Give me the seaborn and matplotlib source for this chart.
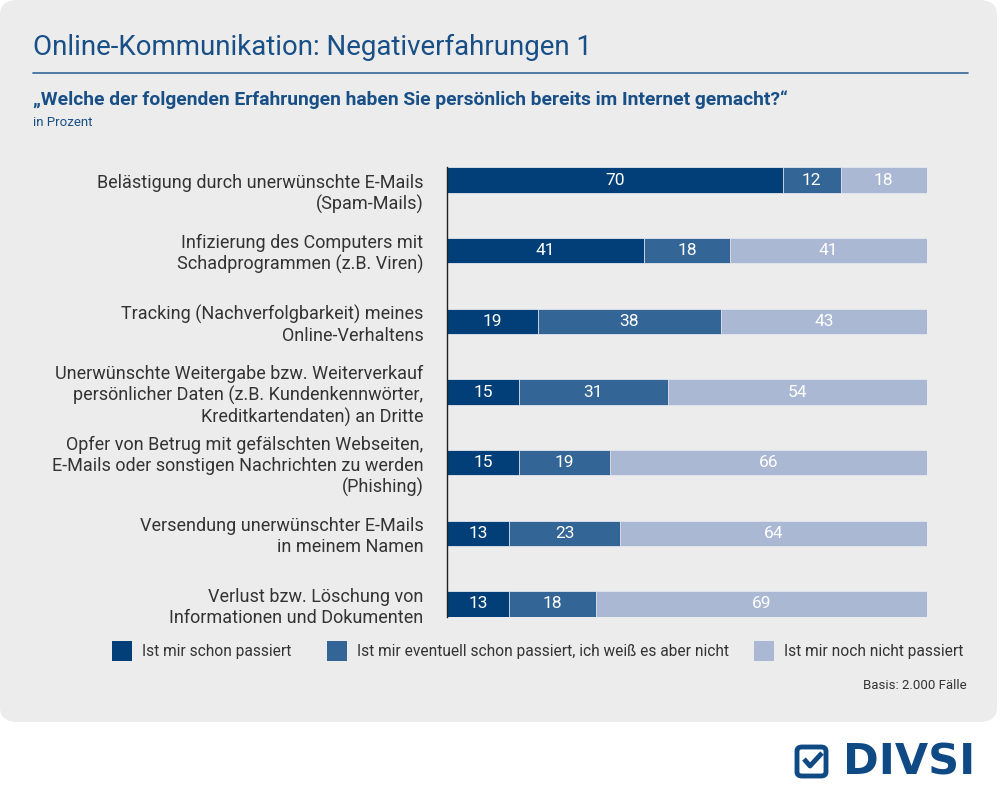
import pandas as pd
import numpy as np
import matplotlib
matplotlib.use("Agg")
import matplotlib.pyplot as plt
import matplotlib.transforms as mtransforms
import seaborn as sns
from matplotlib.patches import FancyBboxPatch

# data
items = [
    "Belästigung durch unerwünschte E-Mails\n(Spam-Mails)",
    "Infizierung des Computers mit\nSchadprogrammen (z.B. Viren)",
    "Tracking (Nachverfolgbarkeit) meines\nOnline-Verhaltens",
    "Unerwünschte Weitergabe bzw. Weiterverkauf\npersönlicher Daten (z.B. Kundenkennwörter,\nKreditkartendaten) an Dritte",
    "Opfer von Betrug mit gefälschten Webseiten,\nE-Mails oder sonstigen Nachrichten zu werden\n(Phishing)",
    "Versendung unerwünschter E-Mails\nin meinem Namen",
    "Verlust bzw. Löschung von\nInformationen und Dokumenten",
]
schon = [70, 41, 19, 15, 15, 13, 13]
eventuell = [12, 18, 38, 31, 19, 23, 18]
nicht = [18, 41, 43, 54, 66, 64, 69]
series_names = ["Ist mir schon passiert",
                "Ist mir eventuell schon passiert, ich weiß es aber nicht",
                "Ist mir noch nicht passiert"]
colors = ["#023f78", "#346597", "#aab8d4"]

df = pd.DataFrame({"item": items, "schon": schon, "eventuell": eventuell, "nicht": nicht})
df["c1"] = df["schon"]
df["c2"] = df["schon"] + df["eventuell"]
df["c3"] = df["c2"] + df["nicht"]

sns.set_style("white")
plt.rcParams["font.family"] = ["Roboto", "DejaVu Sans"]

fig = plt.figure(figsize=(10, 8.05), dpi=100)
fig.patch.set_facecolor("white")

# grey rounded panel
panel = FancyBboxPatch((0.0, 1 - 722 / 805), 0.997, 722 / 805,
                       boxstyle="round,pad=0,rounding_size=0.018",
                       transform=fig.transFigure, facecolor="#ececec",
                       edgecolor="none", zorder=-10)
fig.patches.append(panel)

ax = fig.add_axes([0.447, 1 - 616.5 / 805, 0.48, (616.5 - 167.5) / 805])
ax.set_facecolor("none")

# stacked bars: draw cumulative totals back to front
for col, c in zip(["c3", "c2", "c1"], colors[::-1]):
    sns.barplot(data=df, x=col, y="item", orient="h", color=c, width=0.354,
                edgecolor="#e4e7ee", linewidth=0.6, saturation=1, ax=ax)

# value labels
for i, row in df.iterrows():
    lefts = [0, row["c1"], row["c2"]]
    vals = [row["schon"], row["eventuell"], row["nicht"]]
    for l, v in zip(lefts, vals):
        ax.text(l + v / 2, i, str(v), ha="center", va="center",
                color="white", fontsize=12.5)

ax.set_xlim(0, 100)
ax.set_ylim(6.177, -0.177)
ax.set_xlabel("")
ax.set_ylabel("")
ax.set_xticks([])
for s in ["top", "right", "bottom"]:
    ax.spines[s].set_visible(False)
ax.spines["left"].set_color("#222222")
ax.spines["left"].set_linewidth(1.0)
ax.tick_params(axis="y", length=0, pad=17, labelsize=13, labelcolor="#333333")
labels = ax.get_yticklabels()
for lab in labels:
    lab.set_linespacing(1.2)
# first label: first line level with the bar
labels[0].set_verticalalignment("top")
labels[0].set_transform(labels[0].get_transform() +
                        mtransforms.ScaledTranslation(0, 4.4 / 72, fig.dpi_scale_trans))

# titles
fig.text(0.033, 1 - 47 / 805, "Online-Kommunikation: Negativerfahrungen 1",
         fontsize=19.9, fontweight="normal", color="#174f86", va="center")
fig.add_artist(plt.Line2D([0.033, 0.968], [1 - 73 / 805, 1 - 73 / 805],
                          color="#336699", linewidth=1.2, transform=fig.transFigure))
fig.text(0.033, 1 - 100 / 805,
         "„Welche der folgenden Erfahrungen haben Sie persönlich bereits im Internet gemacht?“",
         fontsize=13.9, fontweight="bold", color="#174f86", va="center")
fig.text(0.033, 1 - 122 / 805, "in Prozent", fontsize=9.5, color="#174f86", va="center")

# legend
leg_x = [0.112, 0.327, 0.754]
for x, name, c in zip(leg_x, series_names, colors):
    fig.patches.append(plt.Rectangle((x, 1 - 661 / 805), 0.020, 20 / 805,
                                     transform=fig.transFigure, facecolor=c,
                                     edgecolor="none"))
    fig.text(x + 0.030, 1 - 651 / 805, name, fontsize=11.2, color="#333333", va="center")

fig.text(0.967, 1 - 685 / 805, "Basis: 2.000 Fälle", fontsize=9.5, color="#333333",
         ha="right", va="center")

# logo
logo_c = "#0f4a85"
fig.patches.append(FancyBboxPatch((0.797, 1 - 776 / 805), 0.029, 29 / 805,
                                  boxstyle="round,pad=0,rounding_size=0.005",
                                  transform=fig.transFigure, facecolor="none",
                                  edgecolor=logo_c, linewidth=3.5))
fig.add_artist(plt.Line2D([0.804, 0.810, 0.822], [1 - 759 / 805, 1 - 766 / 805, 1 - 753 / 805],
                          color=logo_c, linewidth=3.5, transform=fig.transFigure,
                          solid_capstyle="butt"))
fig.text(0.843, 1 - 762 / 805, "DIVSI", fontsize=31, fontweight="bold",
         color=logo_c, va="center", ha="left", family="DejaVu Sans")

fig.savefig("out.png", dpi=100, facecolor=fig.get_facecolor())
